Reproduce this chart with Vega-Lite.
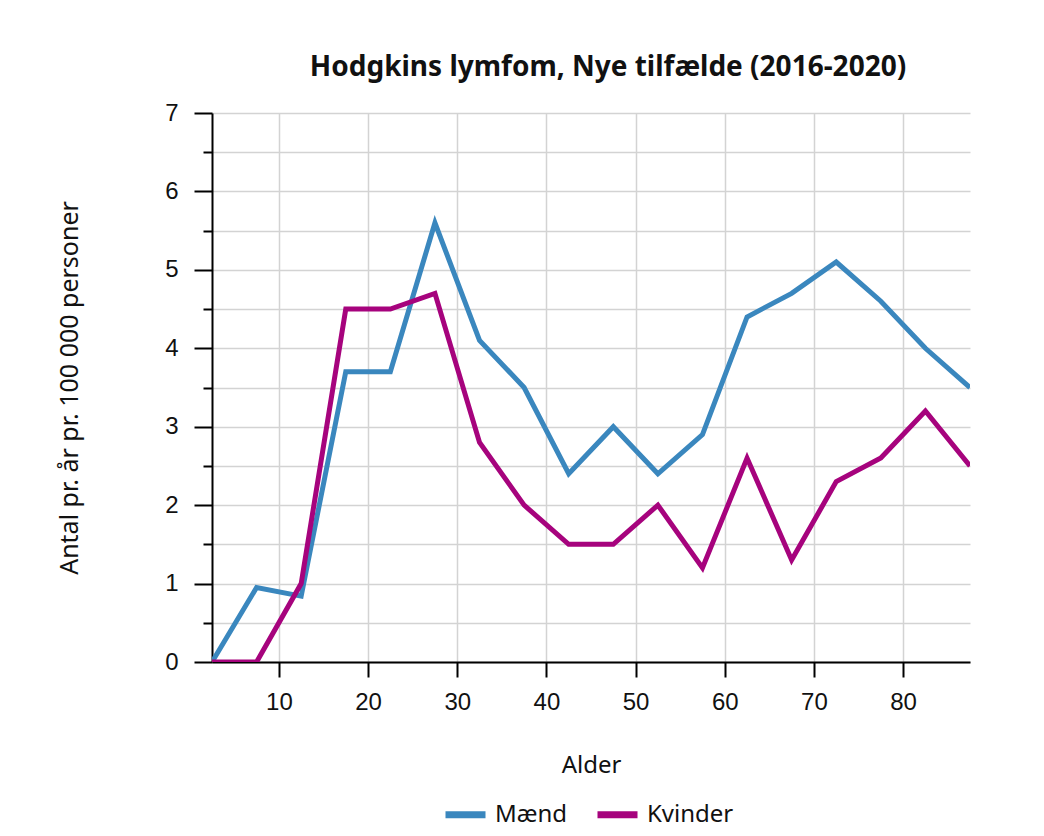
{
  "$schema": "https://vega.github.io/schema/vega-lite/v6.json",
  "width": 758,
  "height": 549,
  "autosize": "none",
  "padding": {"left": 212, "top": 113, "right": 74, "bottom": 174},
  "background": "white",
  "title": {
    "text": "Hodgkins lymfom, Nye tilfælde (2016-2020)",
    "font": "Noto Sans",
    "fontSize": 28,
    "fontWeight": "bold",
    "color": "#111111",
    "anchor": "middle",
    "dx": 17,
    "offset": 19
  },
  "data": {
    "values": [
      {"alder": 2.5, "kon": "Mænd", "rate": 0},
      {"alder": 7.5, "kon": "Mænd", "rate": 0.95},
      {"alder": 12.5, "kon": "Mænd", "rate": 0.84},
      {"alder": 17.5, "kon": "Mænd", "rate": 3.7},
      {"alder": 22.5, "kon": "Mænd", "rate": 3.7},
      {"alder": 27.5, "kon": "Mænd", "rate": 5.6},
      {"alder": 32.5, "kon": "Mænd", "rate": 4.1},
      {"alder": 37.5, "kon": "Mænd", "rate": 3.5},
      {"alder": 42.5, "kon": "Mænd", "rate": 2.4},
      {"alder": 47.5, "kon": "Mænd", "rate": 3.0},
      {"alder": 52.5, "kon": "Mænd", "rate": 2.4},
      {"alder": 57.5, "kon": "Mænd", "rate": 2.9},
      {"alder": 62.5, "kon": "Mænd", "rate": 4.4},
      {"alder": 67.5, "kon": "Mænd", "rate": 4.7},
      {"alder": 72.5, "kon": "Mænd", "rate": 5.1},
      {"alder": 77.5, "kon": "Mænd", "rate": 4.6},
      {"alder": 82.5, "kon": "Mænd", "rate": 4.0},
      {"alder": 87.5, "kon": "Mænd", "rate": 3.5},
      {"alder": 2.5, "kon": "Kvinder", "rate": 0},
      {"alder": 7.5, "kon": "Kvinder", "rate": 0},
      {"alder": 12.5, "kon": "Kvinder", "rate": 1.0},
      {"alder": 17.5, "kon": "Kvinder", "rate": 4.5},
      {"alder": 22.5, "kon": "Kvinder", "rate": 4.5},
      {"alder": 27.5, "kon": "Kvinder", "rate": 4.7},
      {"alder": 32.5, "kon": "Kvinder", "rate": 2.8},
      {"alder": 37.5, "kon": "Kvinder", "rate": 2.0},
      {"alder": 42.5, "kon": "Kvinder", "rate": 1.5},
      {"alder": 47.5, "kon": "Kvinder", "rate": 1.5},
      {"alder": 52.5, "kon": "Kvinder", "rate": 2.0},
      {"alder": 57.5, "kon": "Kvinder", "rate": 1.2},
      {"alder": 62.5, "kon": "Kvinder", "rate": 2.6},
      {"alder": 67.5, "kon": "Kvinder", "rate": 1.3},
      {"alder": 72.5, "kon": "Kvinder", "rate": 2.3},
      {"alder": 77.5, "kon": "Kvinder", "rate": 2.6},
      {"alder": 82.5, "kon": "Kvinder", "rate": 3.2},
      {"alder": 87.5, "kon": "Kvinder", "rate": 2.5}
    ]
  },
  "mark": {"type": "line", "strokeWidth": 5, "strokeJoin": "miter", "clip": true},
  "encoding": {
    "x": {
      "field": "alder",
      "type": "quantitative",
      "scale": {"domain": [2.5, 87.5], "nice": false, "zero": false},
      "axis": {
        "title": "Alder",
        "values": [10, 20, 30, 40, 50, 60, 70, 80],
        "tickSize": 15,
        "tickWidth": 2,
        "tickColor": "#000000",
        "domainColor": "#000000",
        "domainWidth": 2,
        "labelFont": "Liberation Sans",
        "labelFontSize": 24,
        "labelColor": "#111111",
        "labelPadding": 13,
        "titleFont": "Noto Sans",
        "titleFontSize": 24,
        "titleFontWeight": "normal",
        "titleColor": "#111111",
        "titlePadding": 39,
        "grid": true,
        "gridColor": "#d3d3d3",
        "gridWidth": 1.5
      }
    },
    "y": {
      "field": "rate",
      "type": "quantitative",
      "scale": {"domain": [0, 7], "nice": false},
      "axis": {
        "title": "Antal pr. år pr. 100 000 personer",
        "values": [0, 0.5, 1, 1.5, 2, 2.5, 3, 3.5, 4, 4.5, 5, 5.5, 6, 6.5, 7],
        "labelExpr": "datum.value % 1 === 0 ? format(datum.value, 'd') : ''",
        "tickSize": {"condition": {"test": "datum.value % 1 === 0", "value": 18}, "value": 9},
        "tickWidth": 2,
        "tickColor": "#000000",
        "domainColor": "#000000",
        "domainWidth": 2,
        "labelFont": "Liberation Sans",
        "labelFontSize": 24,
        "labelColor": "#111111",
        "labelPadding": 16,
        "titleFont": "Noto Sans",
        "titleFontSize": 25,
        "titleFontWeight": "normal",
        "titleColor": "#111111",
        "titlePadding": 82,
        "grid": true,
        "gridColor": "#d3d3d3",
        "gridWidth": 1.5
      }
    },
    "color": {
      "field": "kon",
      "type": "nominal",
      "sort": ["Mænd", "Kvinder"],
      "scale": {"domain": ["Mænd", "Kvinder"], "range": ["#3a87be", "#a6037d"]},
      "legend": {
        "title": null,
        "orient": "none",
        "direction": "horizontal",
        "legendX": 230,
        "legendY": 678,
        "symbolType": "stroke",
        "symbolSize": 1600,
        "symbolStrokeWidth": 7,
        "labelFont": "Noto Sans",
        "labelFontSize": 24,
        "labelColor": "#111111",
        "labelOffset": 6,
        "columnPadding": 15
      }
    },
    "order": {"field": "kon"}
  },
  "config": {
    "view": {"stroke": null}
  }
}
